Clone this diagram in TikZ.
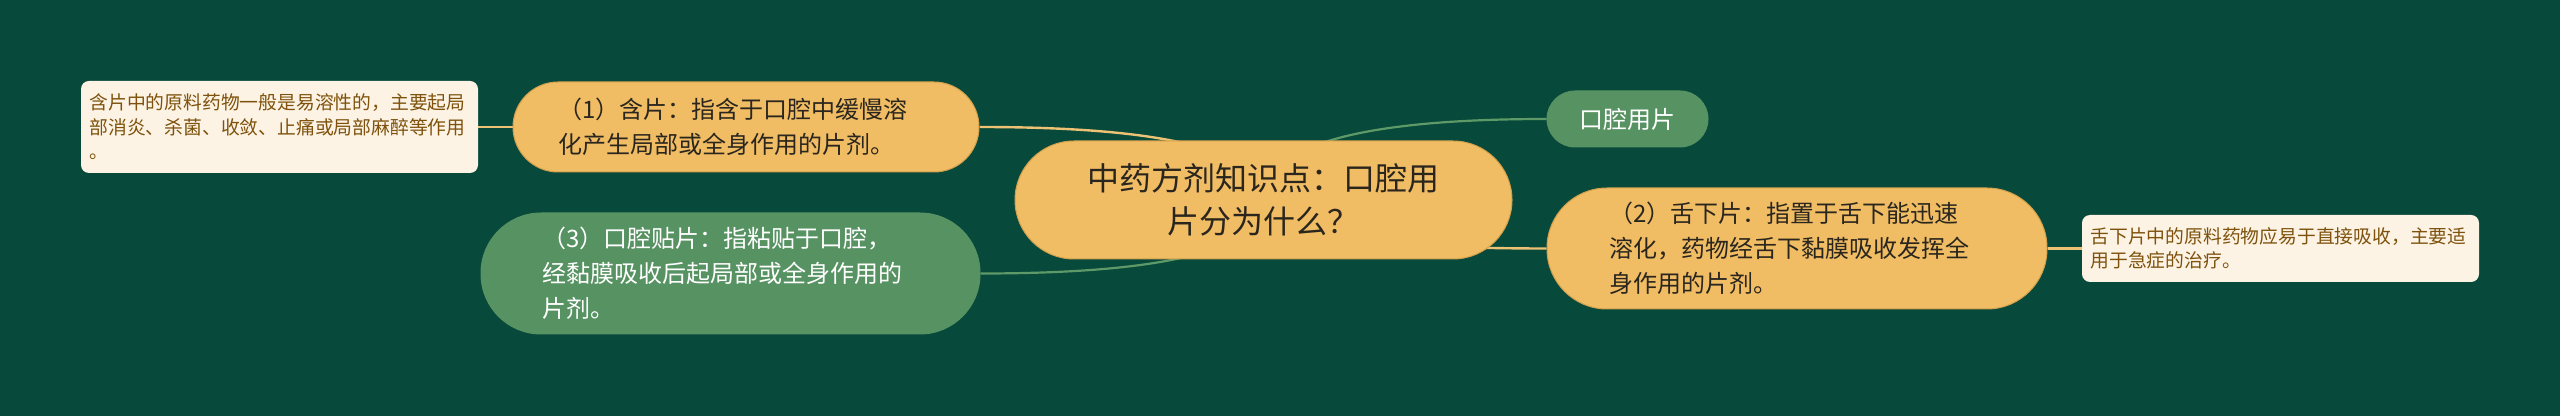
\documentclass[tikz,border=0pt]{standalone}
\usepackage{fontspec}
\setmainfont{Noto Sans CJK SC}
\usetikzlibrary{calc}
\definecolor{bgc}{HTML}{07493A}
\definecolor{orn}{HTML}{F0BC64}
\definecolor{ornd}{HTML}{D2A04C}
\definecolor{grn}{HTML}{579262}
\definecolor{leaff}{HTML}{FDF3E4}
\definecolor{leaft}{HTML}{7E520C}
\definecolor{linko}{HTML}{EDC274}
\definecolor{linkg}{HTML}{5E9A68}
\definecolor{txtd}{HTML}{2A261E}
\pgfdeclarelayer{edges}
\pgfsetlayers{edges,main}
\newcommand\mmlink[3]{%
  \draw[#1] (#2) .. controls ($(#2)!0.667!(#3 |- #2)$) and ($(#3)!0.667!(#3 |- #2)$) .. (#3);}
\tikzset{
  rootnode/.style={fill=orn, draw=ornd, line width=0.5pt, rounded corners=29.5pt,
    minimum width=248.5pt, minimum height=59pt, inner sep=0pt, align=center,
    text=txtd, font=\fontsize{16pt}{21.5pt}\selectfont},
  subnode/.style={line width=0.5pt, rounded corners=#1, inner sep=0pt,
    font=\fontsize{12pt}{17.5pt}\selectfont},
  wide/.style={text width=188pt, align=left},
  orange/.style={fill=orn, draw=ornd, text=txtd},
  greenn/.style={fill=grn, draw=grn, text=white},
  leafnode/.style={fill=leaff, rounded corners=4pt, inner sep=0pt, minimum width=198.5pt,
    text width=190pt, align=left, text=leaft, font=\fontsize{9.4pt}{12.2pt}\selectfont},
  olink/.style={linko, line width=1.2pt},
  glink/.style={linkg, line width=1.1pt}
}
\begin{document}
\begin{tikzpicture}[x=0.5pt,y=-0.5pt]
\useasboundingbox (0,0) rectangle (2560,416);
\node[rootnode] (root) at (1263.5,200) {中药方剂知识点：口腔用\\片分为什么？};
\node[subnode=22.5pt, orange, wide, minimum width=233pt, minimum height=45pt] (n1) at (746,127)
  {（1）含片：指含于口腔中缓慢溶\\化产生局部或全身作用的片剂。};
\node[subnode=30pt, greenn, wide, minimum width=249.5pt, minimum height=60.5pt] (n3) at (730.5,273.5)
  {（3）口腔贴片：指粘贴于口腔，\\经黏膜吸收后起局部或全身作用的\\片剂。};
\node[subnode=14pt, greenn, minimum width=80.5pt, minimum height=28pt] (oral) at (1627.5,119)
  {口腔用片};
\node[subnode=30pt, orange, wide, minimum width=250pt, minimum height=60.5pt] (n2) at (1797,248.5)
  {（2）舌下片：指置于舌下能迅速\\溶化，药物经舌下黏膜吸收发挥全\\身作用的片剂。};
\node[leafnode, minimum height=46pt] (l1) at (279.5,127)
  {含片中的原料药物一般是易溶性的，主要起局\\部消炎、杀菌、收敛、止痛或局部麻醉等作用\\。};
\node[leafnode, minimum height=33.5pt] (l2) at (2280.5,248.5)
  {舌下片中的原料药物应易于直接吸收，主要适\\用于急症的治疗。};
\begin{pgfonlayer}{edges}
\fill[bgc] (0,0) rectangle (2560,416);
\mmlink{olink}{n1.east}{root.center}
\mmlink{glink}{n3.east}{root.center}
\mmlink{glink}{oral.west}{root.center}
\mmlink{olink}{n2.west}{root.center}
\draw[olink] (l1.east) -- (n1.west);
\draw[olink] (n2.east) -- (l2.west);
\end{pgfonlayer}
\end{tikzpicture}
\end{document}
